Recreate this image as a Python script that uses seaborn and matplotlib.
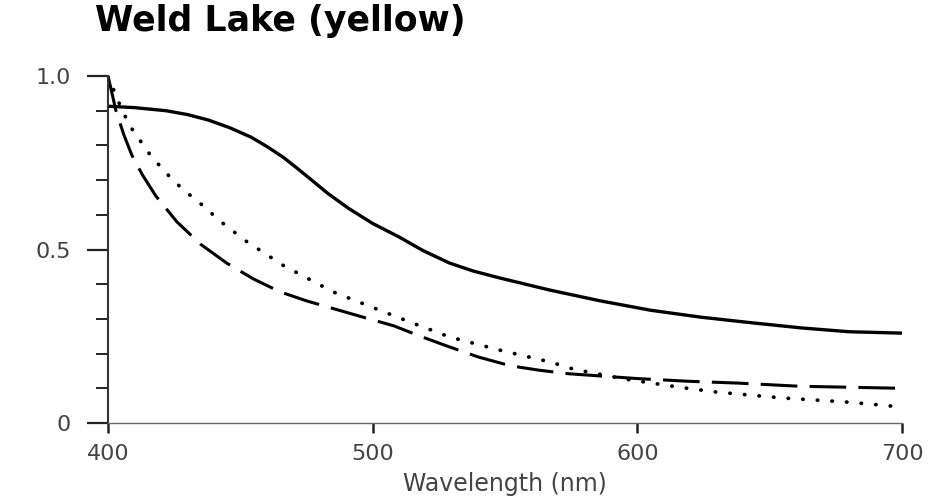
import seaborn as sns
import matplotlib.pyplot as plt
from matplotlib.ticker import MultipleLocator

# curves
wl_solid = [400, 410, 422, 430, 438, 446, 454, 460, 466, 471, 476, 483, 491, 500, 510, 519, 529,
            538, 548, 567, 586, 605, 624, 643, 662, 680, 700]
solid = [0.913, 0.909, 0.90, 0.889, 0.873, 0.851, 0.824, 0.797, 0.767, 0.737, 0.706, 0.662, 0.618,
         0.575, 0.536, 0.497, 0.461, 0.438, 0.418, 0.383, 0.352, 0.325, 0.305, 0.289, 0.274,
         0.263, 0.259]

wl_dot = [400, 404, 408, 416, 422, 428, 435, 443, 452, 466, 485, 491, 510, 529, 548, 567, 576,
          595, 615, 630, 655, 680, 700]
dot = [1.0, 0.925, 0.859, 0.772, 0.72, 0.675, 0.632, 0.578, 0.525, 0.455, 0.378, 0.36, 0.303,
       0.248, 0.21, 0.176, 0.155, 0.127, 0.104, 0.089, 0.072, 0.06, 0.046]

wl_dash = [400, 403, 406, 409, 413, 418, 426, 435, 445, 455, 465, 475, 485, 495, 508, 518, 528,
           540, 552, 563, 574, 600, 620, 638, 661, 680, 700]
dash = [1.0, 0.9, 0.83, 0.772, 0.715, 0.655, 0.58, 0.515, 0.46, 0.415, 0.378, 0.352, 0.33, 0.308,
        0.28, 0.25, 0.222, 0.19, 0.165, 0.152, 0.142, 0.128, 0.12, 0.115, 0.106, 0.103, 0.10]

x_ticks = [400, 500, 600, 700]
y_ticks = [0, 0.5, 1.0]
y_labels = ["0", "0.5", "1.0"]

sns.set_style("white")
plt.rcParams['font.family'] = ['DejaVu Sans']

fig = plt.figure(figsize=(9.33, 5.01), dpi=100)
ax = fig.add_axes([0.1158, 0.1557, 0.851, 0.6925])

sns.lineplot(x=wl_solid, y=solid, ax=ax, color="black", linewidth=2.4)
sns.lineplot(x=wl_dash, y=dash, ax=ax, color="black", linewidth=2.2,
             linestyle=(0, (12, 4)))
line_dot = sns.lineplot(x=wl_dot, y=dot, ax=ax, color="black", linewidth=2.7).lines[-1]
line_dot.set_linestyle((0, (0.1, 3.8)))
line_dot.set_dash_capstyle("round")

ax.set_xlim(400, 700)
ax.set_ylim(0, 1.0)
ax.set_xticks(x_ticks)
ax.set_yticks(y_ticks)
ax.set_yticklabels(y_labels)
ax.yaxis.set_minor_locator(MultipleLocator(0.1))

for side in ["top", "right"]:
    ax.spines[side].set_visible(False)
ax.spines["left"].set_color("#333333")
ax.spines["left"].set_linewidth(1.5)
ax.spines["bottom"].set_color("#666666")
ax.spines["bottom"].set_linewidth(1.0)

ax.tick_params(axis="y", which="major", direction="out", length=15, width=1.6, left=True,
               color="#222222", pad=12, labelsize=16, labelcolor="#444444")
ax.tick_params(axis="y", which="minor", direction="out", length=9, width=1.4,
               color="#222222", left=True)
ax.tick_params(axis="x", which="major", direction="out", length=7, width=1.8,
               color="#222222", pad=8, labelsize=16, labelcolor="#444444", bottom=True)

ax.set_xlabel("Wavelength (nm)", fontsize=17, color="#444444", labelpad=6)
ax.set_ylabel("")

fig.text(0.102, 0.992, "Weld Lake (yellow)", fontsize=25, fontweight="bold",
         ha="left", va="top", color="black")

fig.savefig("out.png", dpi=100)
